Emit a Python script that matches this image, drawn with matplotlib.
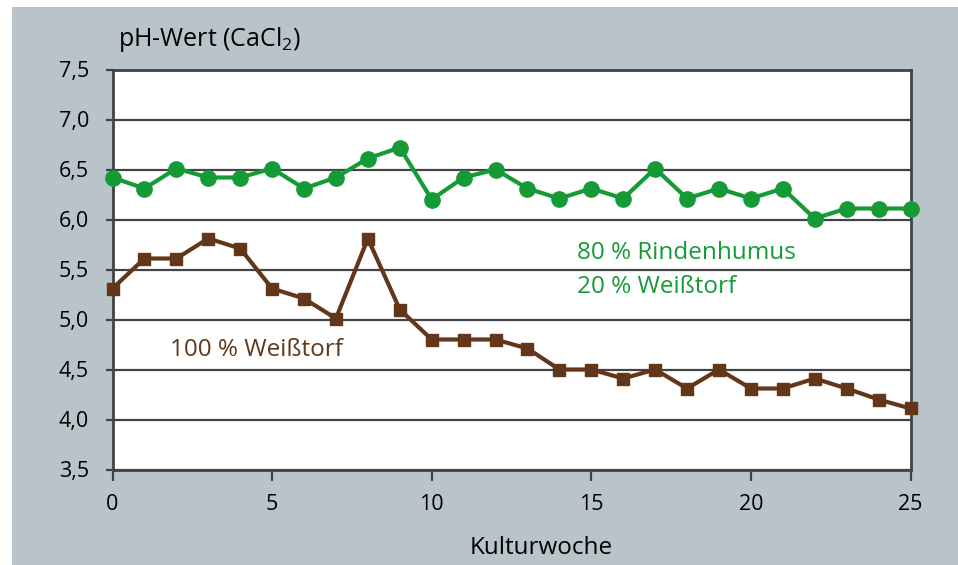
import matplotlib
matplotlib.use("Agg")
from matplotlib import pyplot as plt
from matplotlib.patches import Rectangle

# Kulturwoche 0..25
weeks = list(range(26))
rinde = [6.42, 6.31, 6.51, 6.42, 6.42, 6.51, 6.31, 6.42, 6.61, 6.72, 6.2, 6.42, 6.5,
         6.31, 6.21, 6.31, 6.21, 6.51, 6.21, 6.31, 6.21, 6.31, 6.01, 6.11, 6.11, 6.11]
torf = [5.31, 5.61, 5.61, 5.81, 5.71, 5.31, 5.21, 5.01, 5.81, 5.1, 4.8, 4.8, 4.8,
        4.71, 4.5, 4.5, 4.41, 4.5, 4.31, 4.5, 4.31, 4.31, 4.41, 4.31, 4.2, 4.11]
yticks = [3.5, 4.0, 4.5, 5.0, 5.5, 6.0, 6.5, 7.0, 7.5]
xticks = [0, 5, 10, 15, 20, 25]

green = '#149b36'
brown = '#633619'
grid_c = '#414345'
bg = '#b9c4ca'

plt.rcParams['font.family'] = ['Open Sans', 'DejaVu Sans']
plt.rcParams['mathtext.fontset'] = 'custom'
plt.rcParams['mathtext.rm'] = 'Open Sans'

W, H = 958, 565
fig = plt.figure(figsize=(W / 100, H / 100), dpi=100)
fig.patch.set_facecolor('white')
fig.add_artist(Rectangle((12 / W, 0), 1 - 12 / W, 1 - 7 / H, transform=fig.transFigure,
                         facecolor=bg, edgecolor='none', zorder=0))

ax = fig.add_axes([112.5 / W, 1 - 469.5 / H, (910.5 - 112.5) / W, (469.5 - 69.5) / H])
ax.set_facecolor('white')
for k, s in ax.spines.items():
    s.set_linewidth(2.0)
    s.set_color(grid_c)

ax.set_xlim(0, 25)
ax.set_ylim(3.5, 7.5)
ax.set_yticks(yticks, [('%.1f' % v).replace('.', ',') for v in yticks])
ax.set_xticks(xticks, [str(v) for v in xticks])
ax.yaxis.grid(True, color=grid_c, linewidth=1.6)
ax.set_axisbelow(True)
ax.tick_params(axis='y', length=5, width=1.6, color=grid_c, pad=12, labelsize=15.5)
ax.tick_params(axis='x', length=8, width=1.6, color=grid_c, pad=10, labelsize=15.5)

ax.plot(weeks, rinde, '-o', color=green, linewidth=3, markersize=11, clip_on=False, zorder=3)
ax.plot(weeks, torf, '-s', color=brown, linewidth=3, markersize=8.5, clip_on=False, zorder=3)

def px(x, y):
    return x / W, 1 - y / H

fig.text(*px(577, 253), '80 % Rindenhumus', color=green, fontsize=17.5, va='center', ha='left')
fig.text(*px(577, 287), '20 % Weißtorf', color=green, fontsize=17.5, va='center', ha='left')
fig.text(*px(170, 350), '100 % Weißtorf', color=brown, fontsize=17.5, va='center', ha='left')

fig.text(*px(118, 40), r'pH-Wert (CaCl$_\mathregular{2}$)', fontsize=18, va='center', ha='left')
fig.text(*px(541, 548), 'Kulturwoche', fontsize=17.5, va='center', ha='center')

fig.savefig('out.png', dpi=100)
